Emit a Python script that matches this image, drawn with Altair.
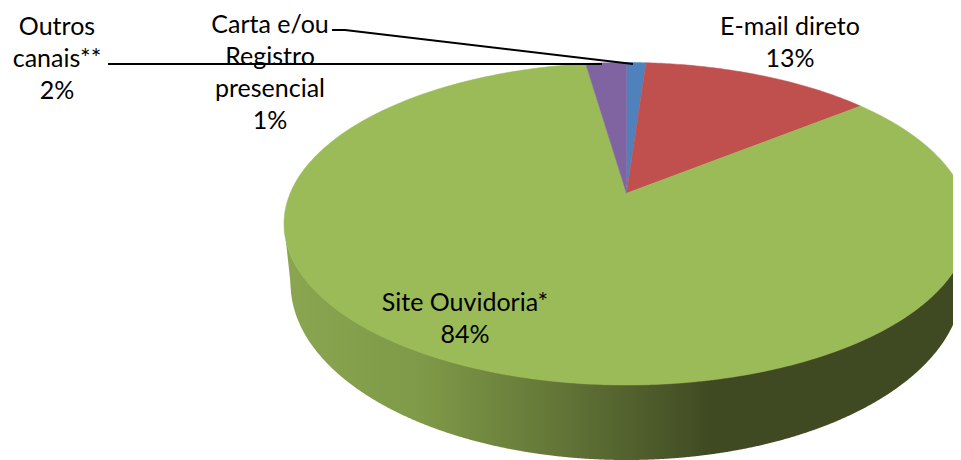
import math
import altair as alt
import numpy as np
import pandas as pd

# Chart values
categories = ["Carta e/ou Registro presencial", "E-mail direto", "Site Ouvidoria*", "Outros canais**"]
shares = [1.1, 13.1, 83.5, 2.3]
colors = ["#4f81bd", "#c0504d", "#9bbb59", "#8064a2"]

label_lines = [
    ["Carta e/ou", "Registro", "presencial"],
    ["E-mail direto"],
    ["Site Ouvidoria*"],
    ["Outros", "canais**"],
]
label_anchor_x = [270, 790, 465, 57]
label_first_y = [24, 26, 302, 26]
line_step = 32

# Tilted-disc view (picture pixels): centre, perspective and thickness
CX, CY = 626.5, 193.3
TOP_Y, BOTTOM_Y, HALF_W = 62.5, 385.0, 342.5
BASE_CY, BASE_A, BASE_B = 283.0, 336.0, 177.0
W, H = 945, 452

up = CY - TOP_Y
down = BOTTOM_Y - CY
B = 2 / (1 / up + 1 / down)
K = B / up - 1
A = HALF_W * math.sqrt(1 - K * K)


def rim(frac):
    t = 2 * math.pi * frac
    u, v = math.sin(t), math.cos(t)
    d = 1 + K * v
    return CX + A * u / d, CY - B * v / d


rows = []
start = 0.0
for cat, share in zip(categories, shares):
    n = max(3, int(share * 6))
    pts = [(CX, CY)] + [rim((start + share * i / n) / 100) for i in range(n + 1)] + [(CX, CY)]
    for i, (x, y) in enumerate(pts):
        rows.append({"cat": cat, "seq": i, "x": x, "y": y})
    start += share
slices = pd.DataFrame(rows)

# Side wall
ecy = (TOP_Y + BOTTOM_Y) / 2
eb = (BOTTOM_Y - TOP_Y) / 2
xs = np.concatenate([np.arange(CX - HALF_W, CX - HALF_W + 6, 0.5), np.arange(CX - HALF_W + 6, 962, 1.0)])
y_top = ecy + eb * np.sqrt(np.clip(1 - ((xs - CX) / HALF_W) ** 2, 0, 1))
y_base = BASE_CY + BASE_B * np.sqrt(np.clip(1 - ((xs - CX) / BASE_A) ** 2, 0, 1))
left_base = CX - BASE_A
mask = xs < left_base
y_base[mask] = ecy + (xs[mask] - xs[0]) / (left_base - xs[0]) * (BASE_CY - ecy)
wall = pd.DataFrame({"x": xs, "y": y_top - 0.5, "y2": y_base})

xs_scale = alt.Scale(domain=[8, 953], range=[0, W], nice=False, zero=False)
ys_scale = alt.Scale(domain=[8, 460], range=[0, H], nice=False, zero=False)
X = alt.X("x:Q", scale=xs_scale, axis=None)
Y = alt.Y("y:Q", scale=ys_scale, axis=None)

wall_layer = alt.Chart(wall).mark_area(
    clip=True,
    fill=alt.Gradient(
        gradient="linear", x1=0, x2=1, y1=0, y2=0,
        stops=[
            alt.GradientStop(offset=0.0, color="#8ba650"),
            alt.GradientStop(offset=0.2, color="#7f9a48"),
            alt.GradientStop(offset=0.42, color="#617336"),
            alt.GradientStop(offset=0.63, color="#3f4a22"),
            alt.GradientStop(offset=1.0, color="#3f4a22"),
        ],
    ),
).encode(x=X, y=Y, y2="y2:Q")

slice_layer = alt.Chart(slices).mark_line(clip=True, filled=True, strokeWidth=0.5, interpolate="linear").encode(
    x=X, y=Y,
    color=alt.Color("cat:N", scale=alt.Scale(domain=categories, range=colors), legend=None),
    stroke=alt.Stroke("cat:N", scale=alt.Scale(domain=categories, range=colors), legend=None),
    order=alt.Order("seq:Q"),
)

leaders = pd.DataFrame({
    "id": ["a", "a", "a", "b", "b"],
    "seq": [0, 1, 2, 0, 1],
    "x": [332, 345, 633, 108, 602],
    "y": [30, 30, 64, 64, 64],
})
leader_layer = alt.Chart(leaders).mark_line(color="black", strokeWidth=2).encode(
    x=X, y=Y, detail="id:N", order=alt.Order("seq:Q")
)

text_rows = []
for lines, share, ax, ay in zip(label_lines, shares, label_anchor_x, label_first_y):
    for i, t in enumerate(lines + [f"{round(share)}%"]):
        text_rows.append({"x": ax, "y": ay + i * line_step, "t": t})
text_layer = alt.Chart(pd.DataFrame(text_rows)).mark_text(
    font="Lato", fontSize=25, color="black", align="center", baseline="middle", dy=0.5
).encode(x=X, y=Y, text="t:N")

chart = alt.layer(wall_layer, slice_layer, leader_layer, text_layer).properties(
    width=W, height=H, padding=0, autosize=alt.AutoSizeParams(type="none")
).configure_view(stroke=None)

chart.save("out.html", embed_options={"renderer": "svg", "actions": False})
